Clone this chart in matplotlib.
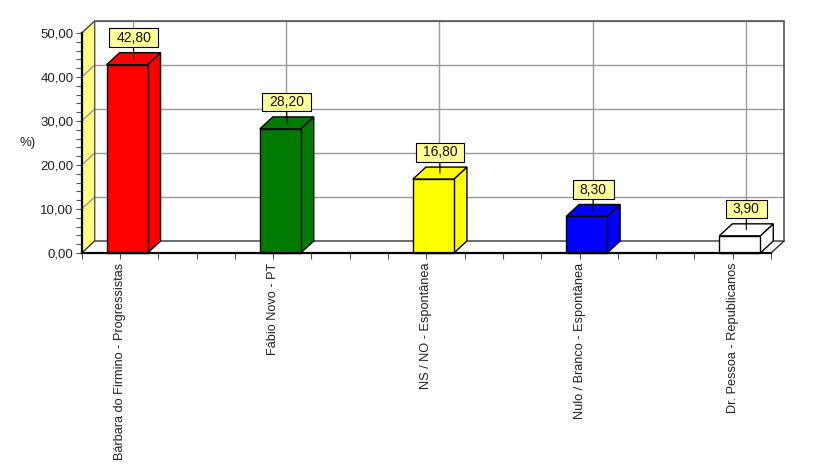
import numpy as np
import matplotlib
matplotlib.use("Agg")
import matplotlib.pyplot as plt
from matplotlib.patches import Polygon
from matplotlib.path import Path
from matplotlib.ticker import MultipleLocator

plt.rcParams['font.family'] = ['Liberation Sans', 'DejaVu Sans']

categories = ["Bárbara do Firmino - Progressistas", "Fábio Novo - PT",
              "NS / NO - Espontânea", "Nulo / Branco - Espontânea",
              "Dr. Pessoa - Republicanos"]
values = [42.80, 28.20, 16.80, 8.30, 3.90]
colors = ["#FF0000", "#007A00", "#FFFF00", "#0000FF", "#FFFFFF"]
y_ticks = [0, 10, 20, 30, 40, 50]
y_label = "%)"

W, H = 827, 476
fig = plt.figure(figsize=(W / 100, H / 100), dpi=100)
x_left, x_right = 81.7, 771.0
y_bot, y_top = 253.0, 33.0
ax = fig.add_axes([x_left / W, (H - y_bot) / H, (x_right - x_left) / W, (y_bot - y_top) / H])
XMAX, YMAX = 18, 50
ax.set_xlim(0, XMAX)
ax.set_ylim(0, YMAX)
ax.patch.set_visible(False)

# depth offset in data units (13 px right, 12 px up)
DX = 13 / ((x_right - x_left) / XMAX)
DY = 12 / ((y_bot - y_top) / YMAX)

pos = 1 + 4 * np.arange(len(categories))
grid_c = "#9a9a9a"


def label_box(x0, y0, width, height, mutation_size):
    px, py = 0.5 * mutation_size, 0.17 * mutation_size
    x0, y0 = x0 - px, y0 - py
    x1, y1 = x0 + width + 2 * px, y0 + height + 2 * py
    return Path([(x0, y0), (x1, y0), (x1, y1), (x0, y1), (x0, y0)], closed=True)


# back wall
ax.add_patch(Polygon([(DX, DY), (XMAX + DX, DY), (XMAX + DX, YMAX + DY), (DX, YMAX + DY)],
                     closed=True, fc="white", ec="none", zorder=0, clip_on=False))
for t in y_ticks[1:]:
    ax.plot([DX, XMAX + DX], [t + DY, t + DY], color=grid_c, lw=1, zorder=1, clip_on=False)
for p in pos:
    ax.plot([p + DX, p + DX], [DY, YMAX + DY], color=grid_c, lw=1, zorder=1, clip_on=False)
# top & right border of back wall
ax.plot([DX, XMAX + DX, XMAX + DX], [YMAX + DY, YMAX + DY, DY], color="#555555", lw=1.2,
        zorder=1, clip_on=False)
# side wall
ax.add_patch(Polygon([(0, 0), (DX, DY), (DX, YMAX + DY), (0, YMAX)], closed=True,
                     fc="#FFFF80", ec="none", zorder=1.5, clip_on=False))
for t in y_ticks[1:]:
    ax.plot([0, DX], [t, t + DY], color=grid_c, lw=1, zorder=2, clip_on=False)
ax.plot([0, DX, DX], [YMAX, YMAX + DY, DY], color="#555555", lw=1, zorder=2, clip_on=False)
# floor
ax.add_patch(Polygon([(0, 0), (XMAX, 0), (XMAX + DX, DY), (DX, DY)], closed=True,
                     fc="white", ec="none", zorder=2, clip_on=False))
ax.plot([0, DX, XMAX + DX, XMAX], [0, DY, DY, 0], color="#333333", lw=1, zorder=2.5, clip_on=False)

# bars
bw = 1.07
for p, v, c in zip(pos, values, colors):
    x0 = p - 0.35
    x1 = x0 + bw
    ax.add_patch(Polygon([(x1, 0), (x1 + DX, DY), (x1 + DX, v + DY), (x1, v)], closed=True,
                         fc=c, ec="black", lw=1, zorder=3, clip_on=False))
    ax.add_patch(Polygon([(x0, v), (x1, v), (x1 + DX, v + DY), (x0 + DX, v + DY)], closed=True,
                         fc=c, ec="black", lw=1, zorder=3, clip_on=False))
    ax.add_patch(Polygon([(x0, 0), (x1, 0), (x1, v), (x0, v)], closed=True,
                         fc=c, ec="black", lw=1, zorder=4, clip_on=False))
    ax.annotate(f"{v:.2f}".replace(".", ","), xy=(x0 + bw / 2 + DX / 2, v + DY / 2),
                xytext=(0, 10), textcoords="offset points", ha="center", va="bottom",
                fontsize=10, zorder=6, color="#111111",
                bbox=dict(boxstyle=label_box, fc="#FFFF99", ec="black", lw=0.8),
                arrowprops=dict(arrowstyle="-", color="black", lw=0.8, shrinkA=0, shrinkB=0))

# axes styling
for s in ["top", "right"]:
    ax.spines[s].set_visible(False)
for s in ["left", "bottom"]:
    ax.spines[s].set_linewidth(1.6)
    ax.spines[s].set_zorder(5)
ax.set_yticks(y_ticks)
ax.set_yticklabels([f"{t:.2f}".replace(".", ",") for t in y_ticks], fontsize=9.5, color="#222222")
ax.yaxis.set_minor_locator(MultipleLocator(2))
ax.set_xticks(pos)
ax.set_xticklabels(categories, rotation=90, fontsize=9.2, color="#222222", va="top")
ax.xaxis.set_minor_locator(MultipleLocator(1))
ax.tick_params(axis="both", which="both", direction="out", length=4, width=0.8, color="#555555")
ax.tick_params(axis="x", pad=3)
ax.tick_params(axis="y", pad=2)
fig.text(20 / W, 1 - 143 / H, y_label, fontsize=9.5, ha="left", va="center", color="#222222")

fig.savefig("out.png", dpi=100)
